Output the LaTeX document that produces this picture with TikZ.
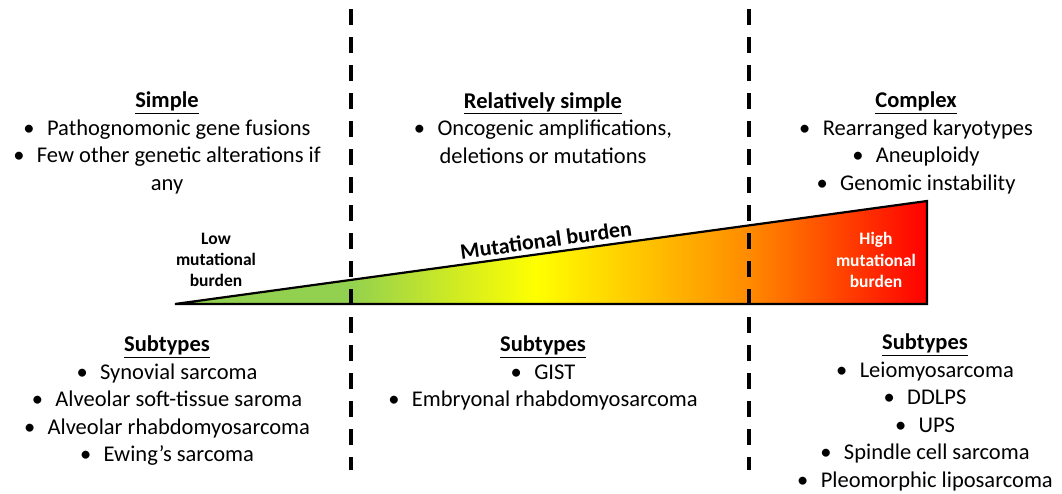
\documentclass[tikz,border=0pt]{standalone}
\usepackage{fontspec}
\setmainfont{Carlito}
\definecolor{gA}{HTML}{92D050}
\definecolor{gY}{HTML}{FFFF00}
\definecolor{gO}{HTML}{FF8C00}
\definecolor{gR}{HTML}{FF0000}
\pgfdeclarehorizontalshading{mutshade}{100bp}{color(0bp)=(gA); color(25bp)=(gA); color(36.5bp)=(gA); color(49bp)=(gY); color(63bp)=(gO); color(75bp)=(gR); color(100bp)=(gR)}
\newcommand{\bul}{\textbullet\hspace{0.55em}}
\tikzset{
  body/.style={align=center, font=\fontsize{22.5}{27.5}\selectfont, inner sep=0pt, anchor=north},
  small/.style={align=center, font=\fontsize{17.5}{21.2}\selectfont\bfseries, inner sep=0pt},
  divider/.style={line width=4pt, dash pattern=on 16pt off 12pt},
}
\begin{document}
\begin{tikzpicture}[x=1pt,y=-1pt]
\useasboundingbox (0,0) rectangle (1062,493);
% triangle
\coordinate (tl) at (175,304);
\coordinate (br) at (927,304);
\coordinate (tr) at (927,201);
\shade[shading=mutshade] (tl) -- (tr) -- (br) -- cycle;
\draw[line width=2.2pt, line join=miter] (tl) -- (tr) -- (br) -- cycle;
% dividers
\coordinate (d1a) at (351,9);
\coordinate (d1b) at (351,470);
\coordinate (d2a) at (749,9);
\coordinate (d2b) at (749,470);
\draw[divider] (d1a) -- (d1b);
\draw[divider] (d2a) -- (d2b);
% top texts
\node[body] (simple) at (167,92) {\underline{\textbf{Simple}}\\ \bul Pathognomonic gene fusions\\ \bul Few other genetic alterations if\\ any};
\node[body] (relsimple) at (543,92) {\underline{\textbf{Relatively simple}}\\ \bul Oncogenic amplifications,\\ deletions or mutations};
\node[body] (complex) at (916,92) {\underline{\textbf{Complex}}\\ \bul Rearranged karyotypes\\ \bul Aneuploidy\\ \bul Genomic instability};
% triangle labels
\node[small] (low) at (216,260) {Low\\ mutational\\ burden};
\node[small, text=white] (high) at (876,260) {High\\ mutational\\ burden};
\node[font=\fontsize{22}{26}\selectfont\bfseries, rotate=7.8, inner sep=0pt] (mb) at (546,240) {Mutational burden};
% bottom texts
\node[body] (sub1) at (167,336) {\underline{\textbf{Subtypes}}\\ \bul Synovial sarcoma\\ \bul Alveolar soft-tissue saroma\\ \bul Alveolar rhabdomyosarcoma\\ \bul Ewing’s sarcoma};
\node[body] (sub2) at (543,336) {\underline{\textbf{Subtypes}}\\ \bul GIST\\ \bul Embryonal rhabdomyosarcoma};
\node[body] (sub3) at (925,334) {\underline{\textbf{Subtypes}}\\ \bul Leiomyosarcoma\\ \bul DDLPS\\ \bul UPS\\ \bul Spindle cell sarcoma\\ \bul Pleomorphic liposarcoma};
\end{tikzpicture}
\end{document}
